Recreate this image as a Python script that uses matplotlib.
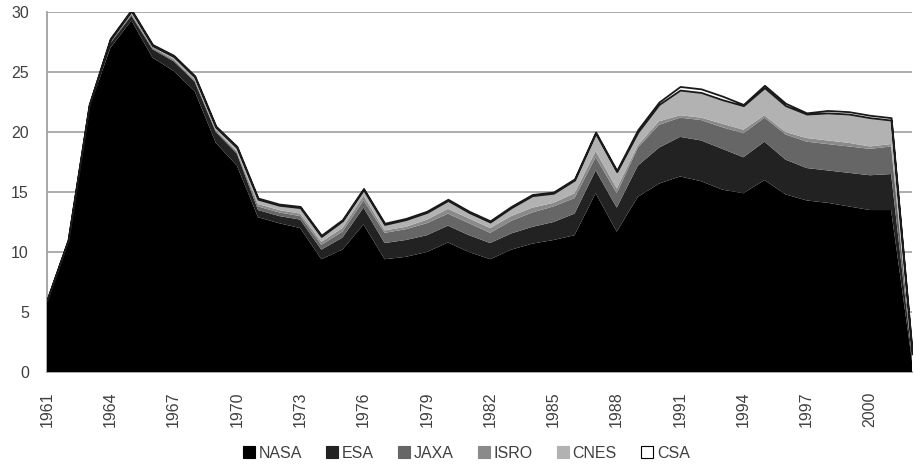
import numpy as np
import matplotlib
matplotlib.use('Agg')
import matplotlib.pyplot as plt
from matplotlib.patches import Patch

# 数据
years = list(range(1961, 2003))
nasa = [6.0, 11.0, 22.0, 27.0, 29.3, 26.2, 25.1, 23.4, 19.1, 17.2,
        12.9, 12.4, 12.0, 9.4, 10.2, 12.3, 9.4, 9.6, 10.0, 10.8,
        10.0, 9.4, 10.2, 10.7, 11.0, 11.4, 14.9, 11.7, 14.6, 15.7,
        16.3, 15.9, 15.2, 14.9, 16.0, 14.8, 14.3, 14.1, 13.8, 13.5,
        13.5, 0.8]
esa = [0, 0, 0.1, 0.4, 0.4, 0.7, 0.8, 0.8, 0.9, 1.0,
       0.6, 0.6, 0.7, 0.8, 1.0, 1.4, 1.35, 1.4, 1.4, 1.4,
       1.4, 1.35, 1.35, 1.4, 1.5, 1.8, 1.9, 2.0, 2.6, 3.0,
       3.3, 3.4, 3.4, 3.0, 3.2, 2.9, 2.7, 2.7, 2.8, 2.9,
       3.0, 0.3]
jaxa = [0, 0, 0.05, 0.1, 0.1, 0.1, 0.1, 0.1, 0.1, 0.1,
        0.3, 0.3, 0.3, 0.4, 0.5, 0.6, 0.85, 0.9, 1.0, 1.0,
        1.0, 0.85, 1.05, 1.2, 1.3, 1.3, 1.1, 1.2, 1.5, 1.9,
        1.6, 1.7, 1.8, 2.0, 2.0, 2.1, 2.2, 2.2, 2.2, 2.2,
        2.3, 0.2]
isro = [0, 0, 0.05, 0.1, 0.1, 0.1, 0.1, 0.1, 0.1, 0.1,
        0.2, 0.2, 0.2, 0.25, 0.3, 0.4, 0.2, 0.2, 0.3, 0.4,
        0.4, 0.4, 0.4, 0.4, 0.3, 0.4, 0.5, 0.4, 0.2, 0.3,
        0.2, 0.2, 0.3, 0.3, 0.2, 0.2, 0.3, 0.3, 0.3, 0.2,
        0.2, 0.05]
cnes = [0, 0, 0.05, 0.1, 0.2, 0.1, 0.2, 0.2, 0.2, 0.3,
        0.4, 0.4, 0.5, 0.45, 0.6, 0.5, 0.5, 0.6, 0.6, 0.7,
        0.5, 0.5, 0.7, 1.0, 0.8, 1.1, 1.5, 1.4, 1.1, 1.4,
        2.1, 2.1, 2.0, 2.0, 2.3, 2.2, 2.0, 2.3, 2.4, 2.4,
        2.0, 0.15]
csa = [0, 0, 0.05, 0.1, 0.1, 0.1, 0.1, 0.1, 0.1, 0.1,
       0.1, 0.1, 0.1, 0.1, 0.1, 0.1, 0.1, 0.1, 0.1, 0.1,
       0.1, 0.1, 0.1, 0.1, 0.1, 0.1, 0.1, 0.1, 0.2, 0.2,
       0.3, 0.3, 0.3, 0.1, 0.2, 0.2, 0.1, 0.2, 0.2, 0.2,
       0.2, 0.1]

labels = ['NASA', 'ESA', 'JAXA', 'ISRO', 'CNES', 'CSA']
colors = ['#000000', '#222222', '#666666', '#8a8a8a', '#b2b2b2', '#ffffff']

plt.rcParams['font.family'] = ['Liberation Sans', 'DejaVu Sans']

fig = plt.figure(figsize=(9.14, 4.65), dpi=100)
ax = fig.add_axes([0.0514, 0.2, 0.9466, 0.774])

polys = ax.stackplot(years, nasa, esa, jaxa, isro, cnes, csa,
                     colors=colors, linewidth=0, zorder=3)
# CSA 层带黑色描边
polys[-1].set_edgecolor('#1a1a1a')
polys[-1].set_linewidth(1.3)

ax.set_xlim(1961, 2002)
ax.set_ylim(0, 30)
ax.set_yticks(range(0, 31, 5))
ax.set_xticks(range(1961, 2001, 3))
ax.tick_params(axis='x', rotation=90, labelsize=11.5, length=0, pad=14, colors='#404040')
ax.tick_params(axis='y', labelsize=11.5, length=0, pad=13, colors='#404040')
ax.yaxis.grid(True, color='#a6a6a6', linewidth=1.3, zorder=0)
ax.set_axisbelow(True)
for s in ['top', 'right']:
    ax.spines[s].set_visible(False)
for s in ['left', 'bottom']:
    ax.spines[s].set_color('#a0a0a0')
    ax.spines[s].set_linewidth(1.3)

handles = [Patch(facecolor=c, edgecolor='#000000' if l == 'CSA' else c, linewidth=0.8)
           for c, l in zip(colors, labels)]
fig.legend(handles, labels, loc='lower center', bbox_to_anchor=(0.51, -0.022),
           ncol=6, frameon=False, fontsize=11.5, handlelength=0.75, handleheight=0.75,
           handletextpad=0.25, columnspacing=1.5, labelcolor='#404040')

plt.savefig('out.png', dpi=100)
